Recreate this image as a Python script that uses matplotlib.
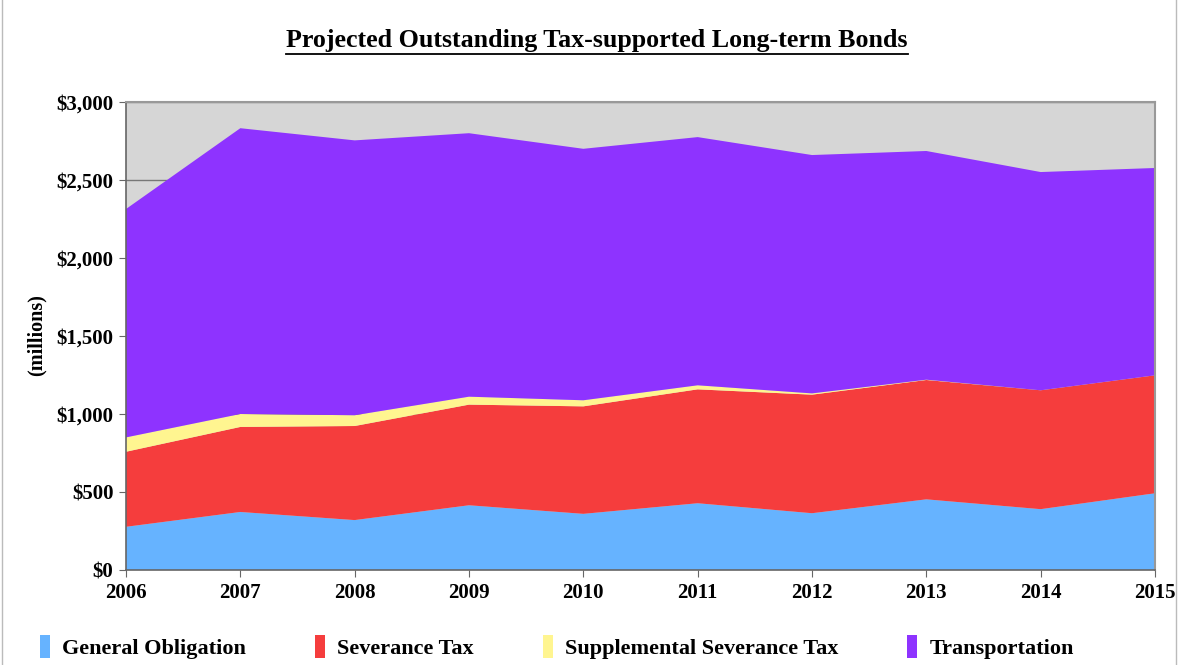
import matplotlib.pyplot as plt
import matplotlib.ticker as mticker
from matplotlib.patches import Patch, Rectangle
from matplotlib.lines import Line2D

plt.rcParams['font.family'] = ['Liberation Serif', 'DejaVu Serif']
plt.rcParams['font.weight'] = 'bold'

# outstanding bonds by fiscal year, $ millions
years = [2006, 2007, 2008, 2009, 2010, 2011, 2012, 2013, 2014, 2015]
general_obligation = [277, 372, 320, 415, 360, 428, 364, 453, 390, 492]
severance_tax = [481, 545, 603, 645, 689, 730, 760, 765, 762, 756]
supplemental_severance = [92, 83, 69, 51, 39, 26, 8, 2, 0, 0]
total = [2314, 2832, 2754, 2800, 2700, 2775, 2660, 2686, 2551, 2577]
transportation = [t - g - s - ss for t, g, s, ss in
                  zip(total, general_obligation, severance_tax, supplemental_severance)]

series_names = ["General Obligation", "Severance Tax",
                "Supplemental Severance Tax", "Transportation"]
colors = ["#66B3FF", "#F53D3D", "#FFF590", "#8E33FF"]

W, H = 1185, 665
fig = plt.figure(figsize=(W / 100, H / 100), dpi=100)
ax = fig.add_axes([126 / W, 1 - 570 / H, (1155 - 126) / W, (570 - 102) / H])
ax.set_facecolor("#D6D6D6")

ax.stackplot(years, general_obligation, severance_tax, supplemental_severance,
             transportation, colors=colors, linewidth=0, zorder=2)

ax.set_xlim(2006, 2015)
ax.set_ylim(0, 3000)
ax.set_xticks(years)
ax.yaxis.set_major_locator(mticker.MultipleLocator(500))
ax.yaxis.set_major_formatter(mticker.FuncFormatter(lambda v, p: f"${v:,.0f}"))
ax.yaxis.grid(True, color="#777777", linewidth=1, zorder=1)
ax.set_axisbelow(True)
ax.tick_params(axis="both", labelsize=15, length=5, color="#666666", pad=4)
for lab in ax.get_xticklabels() + ax.get_yticklabels():
    lab.set_fontweight("bold")
for side in ["left", "bottom"]:
    ax.spines[side].set_color("#666666")
    ax.spines[side].set_linewidth(1.2)
for side in ["top", "right"]:
    ax.spines[side].set_color("#999999")
    ax.spines[side].set_linewidth(1.5)

fig.text(37 / W, 1 - 335 / H, "(millions)", rotation=90, ha="center", va="center",
         fontsize=14.5, fontweight="bold")

title = fig.text(597 / W, 1 - 40 / H, "Projected Outstanding Tax-supported Long-term Bonds",
                 ha="center", va="center", fontsize=18.7, fontweight="bold")

# underline the title
fig.canvas.draw()
bb = title.get_window_extent().transformed(fig.transFigure.inverted())
fig.add_artist(Line2D([bb.x0, bb.x1], [bb.y0 - 0.004, bb.y0 - 0.004],
                      transform=fig.transFigure, color="black", linewidth=1.3))

# thin chart border
fig.add_artist(Rectangle((2 / W, -0.01), (1176 - 2) / W, 1.02, transform=fig.transFigure,
                         fill=False, edgecolor="#BBBBBB", linewidth=1))

handles = [Patch(facecolor=c, edgecolor="none") for c in colors]
fig.legend(handles, series_names, loc="center left", bbox_to_anchor=(40 / W, 1 - 647 / H),
           ncol=4, frameon=False, handlelength=0.45, handleheight=1.2,
           handletextpad=0.55, columnspacing=3.1, borderpad=0, borderaxespad=0,
           prop={"weight": "bold", "size": 16})

fig.savefig("out.png", dpi=100)
